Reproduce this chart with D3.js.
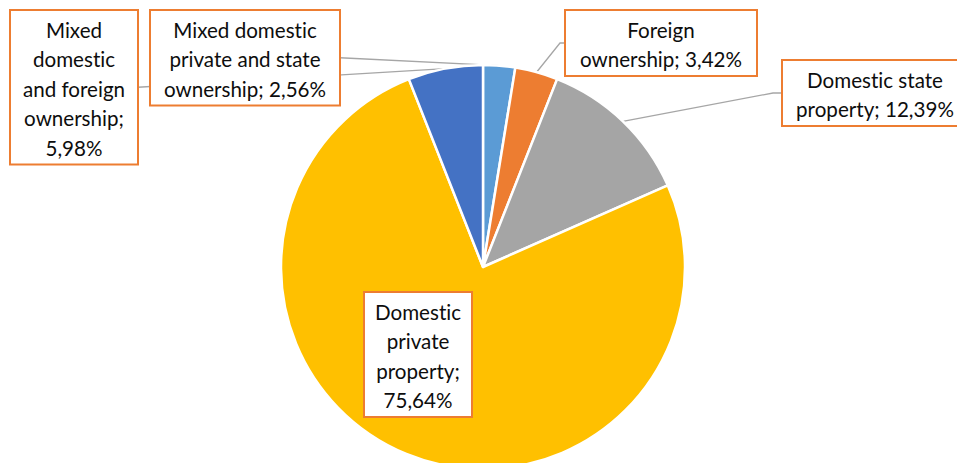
<!DOCTYPE html>
<html>
<head>
<meta charset="utf-8">
<script src="https://cdn.jsdelivr.net/npm/d3@7"></script>
<style>
  body { margin: 0; background: #fff; }
  svg { display: block; }
</style>
</head>
<body>
<div id="pie"></div>
<script>
const width = 957;
const height = 463;

// data, in the order of the spreadsheet (clockwise from 12 o'clock)
const categories = [
  "Mixed domestic private and state ownership",
  "Foreign ownership",
  "Domestic state property",
  "Domestic private property",
  "Mixed domestic and foreign ownership"
];
const shares = [2.56, 3.42, 12.39, 75.64, 5.98];
const colors = ["#5b9bd5", "#ed7d31", "#a5a5a5", "#ffc000", "#4472c4"];

// label boxes : x, y, width, words per line, where the leader touches the box
const boxes = [
  {x: 150, y: 10, w: 190, lines: [2, 3, 2], side: "right"},
  {x: 565, y: 10, w: 192, lines: [1, 2], side: "left", elbow: 5},
  {x: 782, y: 60, w: 186, lines: [2, 2], side: "left", elbow: 9},
  {x: 364, y: 292, w: 108, lines: [1, 1, 1, 1], side: null},
  {x: 10, y: 10, w: 128, lines: [1, 1, 2, 1, 1], side: "right"}
];

const cx = 483, cy = 267, radius = 202;
const lineH = 29.5, padY = 3.5;

const fmt = v => d3.format(".2f")(v).replace(".", ",") + "%";

const pie = d3.pie().sort(null).value(d => d);
const arcs = pie(shares);
const arc = d3.arc().innerRadius(0).outerRadius(radius);

const svg = d3.select("#pie").append("svg")
  .attr("width", width)
  .attr("height", height)
  .style("font-family", "Lato, 'Open Sans', sans-serif")
  .style("font-size", "20.6px")
  .style("font-variant-ligatures", "none");

// leader lines (under the boxes)
const leaders = svg.append("g");
arcs.forEach((a, i) => {
  const b = boxes[i];
  if (!b.side) return;
  const m = (a.startAngle + a.endAngle) / 2;
  const p0 = [cx + radius * Math.sin(m), cy - radius * Math.cos(m)];
  const h = b.lines.length * lineH + padY * 2;
  const by = b.y + h / 2;
  let pts;
  if (b.side === "right") pts = [p0, [b.x + b.w, by]];
  else pts = [p0, [b.x - b.elbow, by], [b.x, by]];
  leaders.append("path")
    .attr("d", d3.line()(pts))
    .attr("fill", "none")
    .attr("stroke", "#a6a6a6")
    .attr("stroke-width", 1.3);
});

const g = svg.append("g").attr("transform", `translate(${cx},${cy})`);

g.selectAll("path")
  .data(arcs)
  .join("path")
  .attr("d", arc)
  .attr("fill", (d, i) => colors[i])
  .attr("stroke", "#fff")
  .attr("stroke-width", 2.5)
  .attr("stroke-linejoin", "round");

// label boxes
arcs.forEach((a, i) => {
  const b = boxes[i];
  const words = (categories[i] + "; " + fmt(shares[i])).split(" ");
  const lines = [];
  let k = 0;
  b.lines.forEach(n => { lines.push(words.slice(k, k + n).join(" ")); k += n; });
  const h = lines.length * lineH + padY * 2;
  const lg = svg.append("g");
  lg.append("rect")
    .attr("x", b.x).attr("y", b.y)
    .attr("width", b.w).attr("height", h)
    .attr("fill", "#fff")
    .attr("stroke", "#ed7d31")
    .attr("stroke-width", 2);
  lg.selectAll("text")
    .data(lines)
    .join("text")
    .attr("x", b.x + b.w / 2)
    .attr("y", (d, j) => b.y + 27.5 + j * lineH)
    .attr("text-anchor", "middle")
    .attr("fill", "#0d0d0d")
    .text(d => d);
});
</script>
</body>
</html>
